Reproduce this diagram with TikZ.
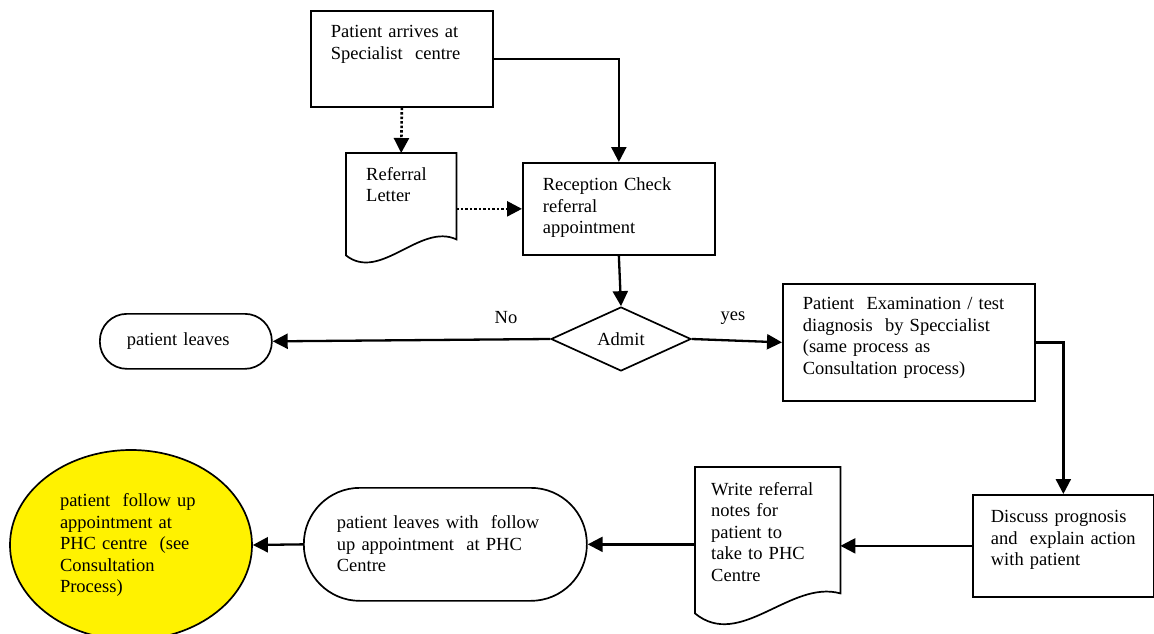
\documentclass[tikz,border=0pt]{standalone}
\usepackage{fontspec}
\setmainfont{Liberation Serif}
\usetikzlibrary{arrows.meta, calc, shapes.geometric}

\begin{document}
\begin{tikzpicture}[x=1pt, y=-1pt, font=\fontsize{18.5}{21.5}\selectfont]
    % Define styles
    \tikzstyle{stepbox}=[draw, line width=1.7pt, anchor=north west, align=left, inner ysep=0pt, inner xsep=20pt]
    \tikzstyle{docbox}=[anchor=north west, align=left, inner ysep=0pt, inner xsep=20pt]
    \tikzstyle{docline}=[line width=1.7pt]
    \tikzstyle{endbox}=[draw, line width=1.7pt, anchor=north west, align=left, inner ysep=0pt]
    \tikzstyle{flow}=[line width=2.3pt, -{Triangle[length=15pt,width=15pt]}]
    \tikzstyle{dotflow}=[line width=2.6pt, dash pattern=on 2.5pt off 2pt, -{Triangle[length=15pt,width=15pt]}]

    \useasboundingbox (0,0) rectangle (1154,634);
    \clip (0,0) rectangle (1154,634);

    % --- 1. Arrival and reception ---
    \node[stepbox, text width=142pt, text height=27pt, text depth=69pt] (arrive) at (310,10)
        {Patient arrives at\\Specialist~ centre};
    \node[docbox, text width=70pt, text height=27pt, text depth=59pt] (referral) at (346,153)
        {Referral\\Letter};
    \draw[docline] (referral.north west) -- ($(referral.south west)+(0,16)$)
        .. controls +(34,27) and +(-36,-17) .. (referral.south east)
        -- (referral.north east) -- cycle;
    \node[stepbox, text width=152pt, text height=28pt, text depth=64pt] (reception) at (522,162)
        {Reception Check\\referral\\appointment};

    % --- 2. Decision ---
    \node[draw, diamond, line width=1.7pt, aspect=2.19, inner sep=0pt,
          minimum width=140pt, minimum height=64pt] (admit) at (621,339) {Admit};
    \node[endbox, rounded corners=27pt, inner xsep=27pt, text width=118pt, minimum height=55pt]
        (leaves) at (99,313) {patient leaves};
    \node (no) at (506,318) {No};
    \node (yes) at (733,318) {yes};

    % --- 3. Examination and discussion ---
    \node[stepbox, text width=212pt, text height=26pt, text depth=91pt] (exam) at (782,283)
        {Patient~ Examination / test\\diagnosis~ by Speccialist\\(same process as\\Consultation process)};
    \node[stepbox, inner xsep=18pt, text width=145pt, text height=28pt, text depth=74pt] (discuss) at (972,494)
        {Discuss prognosis\\and~ explain action\\with patient};

    % --- 4. Referral back to PHC ---
    \node[docbox, inner xsep=16pt, text width=113pt, text height=28pt, text depth=98pt] (notes) at (695,467)
        {Write referral\\notes for\\patient to\\take to PHC\\Centre};
    \draw[docline] (notes.north west) -- ($(notes.south west)+(0,20)$)
        .. controls +(45,37) and +(-50,-14) .. (notes.south east)
        -- (notes.north east) -- cycle;
    \node[endbox, rounded corners=56pt, inner xsep=33pt, text width=217pt, text height=41pt, text depth=72pt]
        (followup) at (303,487) {patient leaves with~ follow\\up appointment~ at PHC\\Centre};
    \node[draw, ellipse, line width=1.7pt, fill=yellow, inner sep=0pt, align=left, text width=142pt,
          minimum width=242pt, minimum height=190pt] (phc) at (131,545)
        {patient~ follow up\\appointment at\\PHC centre~ (see\\Consultation\\Process)};

    % --- 5. Connectors ---
    \draw[flow] (arrive.east) -| (reception.north);
    \draw[dotflow] (arrive.south) -- (referral.north);
    \draw[dotflow] (referral.east |- reception.west) -- (reception.west);
    \draw[flow] (reception.south) -- (admit.north);
    \draw[flow] (admit.west) -- (leaves.east);
    \draw[flow] (admit.east) -- (exam.west);
    \draw[flow] (exam.east) -| (discuss.north);
    \draw[flow] (discuss.west) -- (discuss.west -| notes.east);
    \draw[flow] (followup.east -| notes.west) -- (followup.east);
    \draw[flow] (followup.west) -- (phc.east);

\end{tikzpicture}
\end{document}
